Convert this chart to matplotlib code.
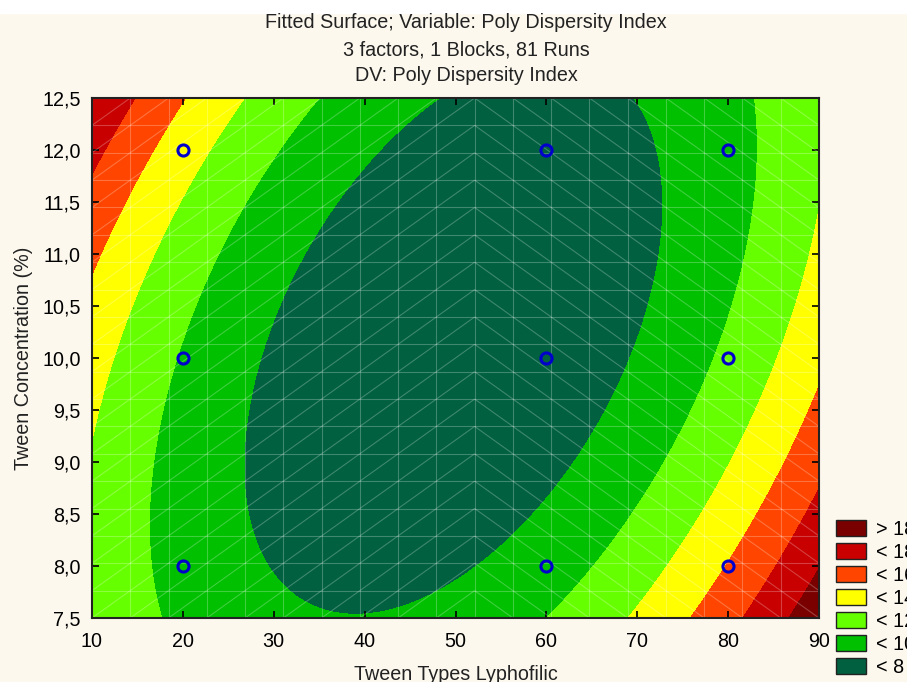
import numpy as np
import matplotlib
matplotlib.use("Agg")
import matplotlib.pyplot as plt
from matplotlib.patches import Patch, Rectangle
from matplotlib.collections import LineCollection
from matplotlib.ticker import FuncFormatter

# design points (Tween type, Tween concentration) and the PDI read at each point
tween_type = [20, 20, 20, 60, 60, 60, 80, 80, 80]
tween_conc = [8, 10, 12, 8, 10, 12, 8, 10, 12]
pdi = [9.32, 9.83, 12.94, 9.04, 6.76, 7.0, 14.08, 10.41, 9.33]

levels = [8, 10, 12, 14, 16, 18]
level_colors = ["#00603f", "#00c000", "#66ff00", "#ffff00", "#ff4500", "#c80000", "#7a0000"]
legend_labels = ["> 18", "< 18", "< 16", "< 14", "< 12", "< 10", "< 8"]

x_ticks = [10, 20, 30, 40, 50, 60, 70, 80, 90]
y_ticks = [7.5, 8.0, 8.5, 9.0, 9.5, 10.0, 10.5, 11.0, 11.5, 12.0, 12.5]

plt.rcParams["font.family"] = ["Liberation Sans", "DejaVu Sans"]
plt.rcParams["font.size"] = 14.2

# quadratic response surface fitted to the design points
x = np.array(tween_type, dtype=float)
y = np.array(tween_conc, dtype=float)
A = np.column_stack([np.ones_like(x), x, y, x**2, y**2, x * y])
coef, *_ = np.linalg.lstsq(A, np.array(pdi), rcond=None)

gx, gy = np.meshgrid(np.linspace(10, 90, 300), np.linspace(7.5, 12.5, 300))
gz = (coef[0] + coef[1] * gx + coef[2] * gy + coef[3] * gx**2
      + coef[4] * gy**2 + coef[5] * gx * gy)

fig = plt.figure(figsize=(9.07, 6.82), dpi=100, facecolor="#fcf8ee")
fig.add_artist(Rectangle((0, 1 - 13 / 682), 1, 13 / 682, transform=fig.transFigure,
                         color="white", zorder=-1))
ax = fig.add_axes([92 / 907, 1 - 618 / 682, 727 / 907, 520 / 682])

ax.contourf(gx, gy, gz, levels=[-1e3] + levels + [1e3], colors=level_colors)

# faint mesh of the fitted surface
mx = np.linspace(10, 90, 20)
my = np.linspace(7.5, 12.5, 20)
segs = []
for v in mx:
    segs.append([(v, 7.5), (v, 12.5)])
for h in my:
    segs.append([(10, h), (90, h)])
for i in range(19):
    for j in range(19):
        if i < 10:
            segs.append([(mx[i], my[j]), (mx[i + 1], my[j + 1])])
        else:
            segs.append([(mx[i], my[j + 1]), (mx[i + 1], my[j])])
ax.add_collection(LineCollection(segs, colors="white", linewidths=0.8, alpha=0.25))

ax.plot(tween_type, tween_conc, "o", mfc="none", mec="#0000cc", ms=8, mew=2.2)

ax.set_xlim(10, 90)
ax.set_ylim(7.5, 12.5)
ax.set_xticks(x_ticks)
ax.set_yticks(y_ticks)
ax.yaxis.set_major_formatter(FuncFormatter(lambda v, p: f"{v:.1f}".replace(".", ",")))
ax.tick_params(direction="in", top=True, right=True, length=5, width=1.2,
               labelsize=14.2, pad=8)
ax.tick_params(axis="x", pad=10)
for s in ax.spines.values():
    s.set_linewidth(1.5)
    s.set_color("#222222")

fig.text(466 / 907, 1 - 28 / 682, "Fitted Surface; Variable: Poly Dispersity Index",
         ha="center", va="baseline", color="#222222")
fig.text(466 / 907, 1 - 55 / 682, "3 factors, 1 Blocks, 81 Runs",
         ha="center", va="baseline", color="#222222")
fig.text(466 / 907, 1 - 81 / 682, "DV: Poly Dispersity Index",
         ha="center", va="baseline", color="#222222")
fig.text(456 / 907, 1 - 680 / 682, "Tween Types Lyphofilic", ha="center", va="baseline",
         color="#222222")
fig.text(24 / 907, 1 - 358 / 682, "Tween Concentration (%)", rotation=90,
         ha="center", va="center", color="#222222")

handles = [Patch(facecolor=c, edgecolor="#222222") for c in level_colors[::-1]]
fig.legend(handles, legend_labels, loc="upper left",
           bbox_to_anchor=(836 / 907, 1 - 520 / 682), frameon=False,
           handlelength=1.5, handleheight=0.9, handletextpad=0.55,
           labelspacing=0.2, borderpad=0, borderaxespad=0)

fig.savefig("out.png", dpi=100, facecolor=fig.get_facecolor())
